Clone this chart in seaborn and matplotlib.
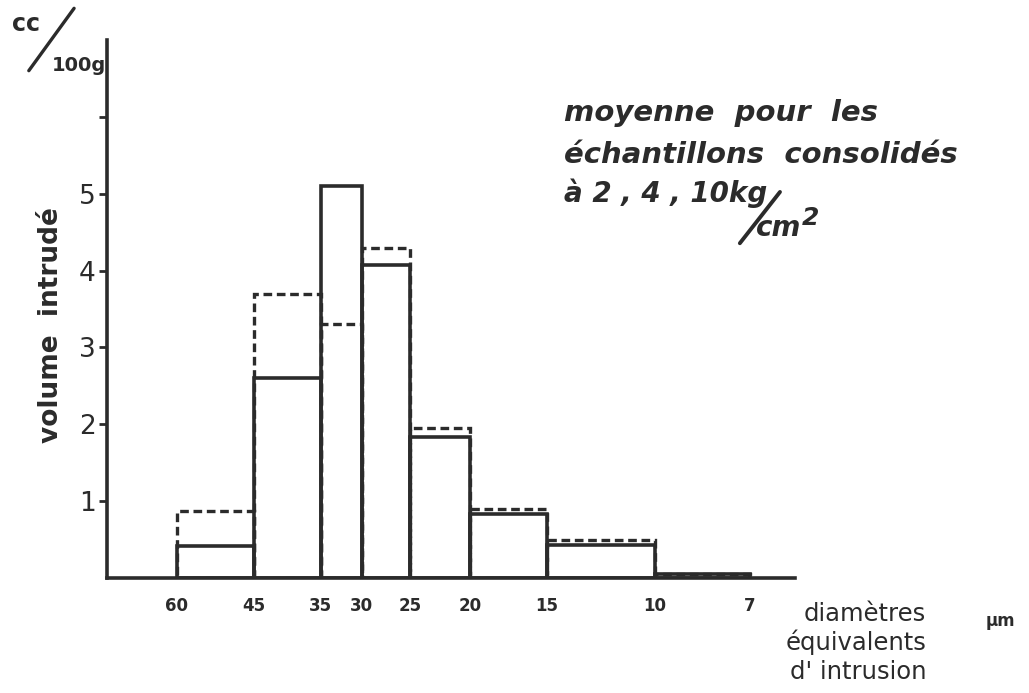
import numpy as np
import pandas as pd
import matplotlib
matplotlib.use("Agg")
import matplotlib.pyplot as plt
import seaborn as sns

# ---- data ----
diam_edges = [60, 45, 35, 30, 25, 20, 15, 10, 7]          # bin edges, µm
solid_vol = [0.42, 2.6, 5.1, 4.07, 1.83, 0.83, 0.43, 0.05]  # cc/100g
dashed_vol = [0.87, 3.7, 3.3, 4.3, 1.95, 0.9, 0.5, 0.05]    # cc/100g
x_tick_labels = ["60", "45", "35", "30", "25", "20", "15", "10", "7"]
y_ticks = [1, 2, 3, 4, 5, 6]
y_tick_labels = ["1", "2", "3", "4", "5", ""]

sns.set_style("white")
plt.rcParams["font.family"] = ["DejaVu Sans"]

ink = "#2b2b2b"

fig = plt.figure(figsize=(10.29, 6.93), dpi=100)
ax = fig.add_axes([0.104, 0.166, 0.669, 0.776])
ax.set_xscale("log")

edges_sorted = sorted(float(e) for e in diam_edges)
log_bins = [float(np.log10(e)) for e in edges_sorted]
centers = [float(np.sqrt(diam_edges[i] * diam_edges[i + 1])) for i in range(len(diam_edges) - 1)]

df = pd.DataFrame({"diam": centers, "solid": solid_vol, "dashed": dashed_vol})

sns.histplot(data=df, x="diam", weights="dashed", bins=log_bins, element="bars",
             fill=False, color=ink, linewidth=2.4, linestyle=(0, (2.6, 1.4)),
             ax=ax, zorder=2)
sns.histplot(data=df, x="diam", weights="solid", bins=log_bins, element="bars",
             fill=False, color=ink, linewidth=2.6, ax=ax, zorder=3)

ax.set_xlim(78, 5.9)
ax.set_ylim(0, 7)

for s in ["top", "right"]:
    ax.spines[s].set_visible(False)
for s in ["left", "bottom"]:
    ax.spines[s].set_color(ink)
    ax.spines[s].set_linewidth(2.6)
    ax.spines[s].set_zorder(5)

ax.set_xticks(diam_edges)
ax.set_xticklabels(x_tick_labels, fontsize=12, fontweight="bold", color=ink)
ax.xaxis.set_minor_locator(matplotlib.ticker.NullLocator())
ax.tick_params(axis="x", length=0, pad=14)
ax.set_yticks(y_ticks)
ax.set_yticklabels(y_tick_labels, fontsize=19, color=ink)
ax.tick_params(axis="y", direction="out", length=6, width=2, color=ink, pad=2, left=True)
ax.set_xlabel("")
ax.set_ylabel("volume  intrudé", fontsize=19, fontweight="bold", color=ink)
ax.yaxis.set_label_coords(-0.062, 0.47)

# unit at top of the y axis: cc / 100g
fig.text(0.012, 0.965, "cc", fontsize=17, fontweight="bold", color=ink, va="center")
fig.add_artist(plt.Line2D([0.028, 0.072], [0.898, 0.988], color=ink, lw=2.4))
fig.text(0.050, 0.905, "100g", fontsize=14, fontweight="bold", color=ink, va="center")

# annotation
note_kw = dict(fontweight="bold", fontstyle="italic", color=ink, va="center")
fig.text(0.548, 0.837, "moyenne  pour  les", fontsize=21, **note_kw)
fig.text(0.548, 0.776, "échantillons  consolidés", fontsize=21, **note_kw)
fig.text(0.548, 0.721, "à 2 , 4 , 10kg", fontsize=20, **note_kw)
fig.add_artist(plt.Line2D([0.719, 0.758], [0.649, 0.723], color=ink, lw=2.8))
fig.text(0.735, 0.671, "cm", fontsize=20, **note_kw)
fig.text(0.779, 0.686, "2", fontsize=18, **note_kw)

# x axis title
fig.text(0.900, 0.114, "diamètres", fontsize=17.5, color=ink, va="center", ha="right")
fig.text(0.958, 0.104, "µm", fontsize=12, fontweight="bold", color=ink, va="center")
fig.text(0.900, 0.073, "équivalents", fontsize=17.5, color=ink, va="center", ha="right")
fig.text(0.900, 0.030, "d' intrusion", fontsize=17.5, color=ink, va="center", ha="right")

fig.savefig("out.png", dpi=100, facecolor="white")
